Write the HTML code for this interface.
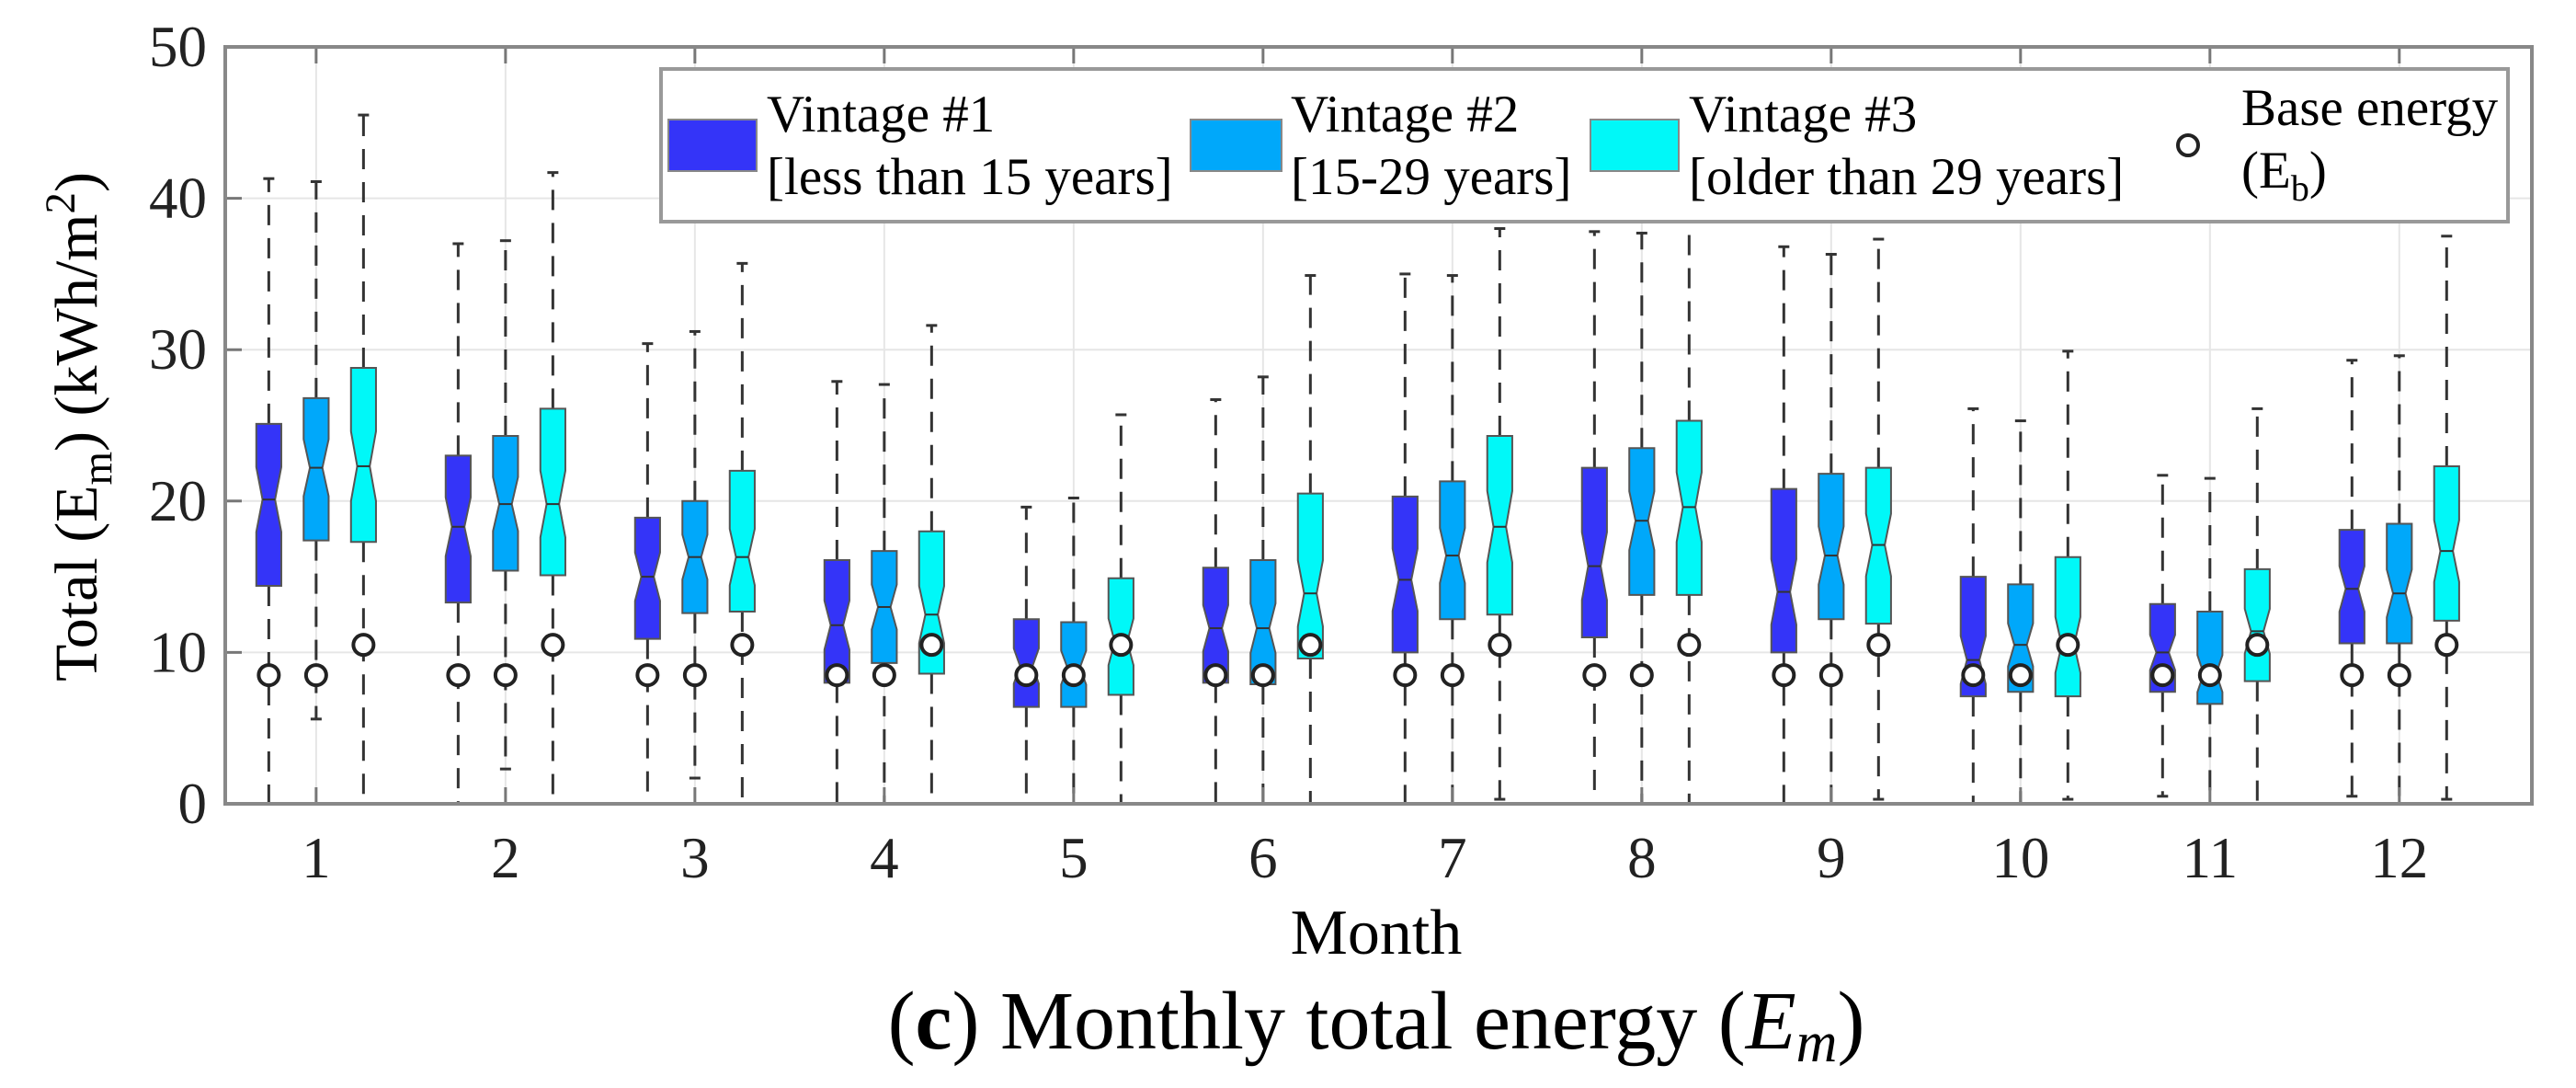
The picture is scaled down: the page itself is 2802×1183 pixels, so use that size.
<!DOCTYPE html>
<html><head><meta charset="utf-8"><style>
html,body{margin:0;padding:0;background:#fff;}
svg{display:block;font-family:"Liberation Serif",serif;}
</style></head><body>
<svg id="chart" width="2802" height="1183" viewBox="0 0 2802 1183" xmlns="http://www.w3.org/2000/svg">
<g id="grid"></g>
<g id="marks"></g>
<g id="axes"></g>
<g id="legend">
 <rect x="719" y="75" width="2009" height="166" fill="#fff" stroke="#999" stroke-width="4"/>
 <rect x="727" y="130" width="96" height="56" fill="#3434f8" stroke="#888" stroke-width="2"/>
 <text x="834" y="143" font-size="57">Vintage #1</text>
 <text x="834" y="211" font-size="57">[less than 15 years]</text>
 <rect x="1295" y="130" width="99" height="56" fill="#00a8fa" stroke="#888" stroke-width="2"/>
 <text x="1404" y="143" font-size="57">Vintage #2</text>
 <text x="1404" y="211" font-size="57">[15-29 years]</text>
 <rect x="1730" y="130" width="96" height="56" fill="#00f8f8" stroke="#888" stroke-width="2"/>
 <text x="1837" y="143" font-size="57">Vintage #3</text>
 <text x="1837" y="211" font-size="57">[older than 29 years]</text>
 <circle cx="2380" cy="158" r="11" fill="#fff" stroke="#222" stroke-width="4"/>
 <text x="2438" y="136" font-size="57">Base energy</text>
 <text x="2438" y="204" font-size="57">(E<tspan font-size="40" dy="14">b</tspan><tspan dy="-14">)</tspan></text>
</g>
<text transform="translate(105,464) rotate(-90)" text-anchor="middle" font-size="66">Total (E<tspan font-size="47" dy="16">m</tspan><tspan dy="-16">) (kWh/m</tspan><tspan font-size="47" dy="-24">2</tspan><tspan dy="24">)</tspan></text>
<text x="1497" y="1037" text-anchor="middle" font-size="70">Month</text>
<text x="1497" y="1140" text-anchor="middle" font-size="90">(<tspan font-weight="bold">c</tspan>) Monthly total energy (<tspan font-style="italic">E</tspan><tspan font-style="italic" font-size="62" dy="14">m</tspan><tspan dy="-14">)</tspan></text>
</svg>
<script>
const months = [1,2,3,4,5,6,7,8,9,10,11,12];
const yTicks = [0,10,20,30,40,50];
// Vintage #1
const v1Min = [0,0,0,0,0,0,0,0,0,0,0.5,0.5];
const v1Q1 = [14.4,13.3,10.9,8.0,6.4,8.0,10.0,11.0,10.0,7.1,7.4,10.6];
const v1Med = [20.1,18.3,15.0,11.8,9.1,11.6,14.8,15.7,14.0,9.5,10.0,14.2];
const v1Q3 = [25.1,23.0,18.9,16.1,12.2,15.6,20.3,22.2,20.8,15.0,13.2,18.1];
const v1Max = [41.3,37.0,30.4,27.9,19.6,26.7,35.0,37.8,36.8,26.1,21.7,29.3];
// Vintage #2
const v2Min = [5.6,2.3,1.7,0,0,0,0,0,0,0,0,0];
const v2Q1 = [17.4,15.4,12.6,9.3,6.4,7.9,12.2,13.8,12.2,7.4,6.6,10.6];
const v2Med = [22.2,19.8,16.3,13.0,9.0,11.6,16.4,18.7,16.4,10.5,8.6,13.9];
const v2Q3 = [26.8,24.3,20.0,16.7,12.0,16.1,21.3,23.5,21.8,14.5,12.7,18.5];
const v2Max = [41.1,37.2,31.2,27.7,20.2,28.2,34.9,37.7,36.3,25.3,21.5,29.6];
// Vintage #3
const v3Min = [0,0,0,0,0,0,0.3,0,0.3,0.3,0,0.3];
const v3Q1 = [17.3,15.1,12.7,8.6,7.2,9.6,12.5,13.8,11.9,7.1,8.1,12.1];
const v3Med = [22.3,19.8,16.3,12.5,10.7,13.9,18.3,19.6,17.1,10.5,11.4,16.7];
const v3Q3 = [28.8,26.1,22.0,18.0,14.9,20.5,24.3,25.3,22.2,16.3,15.5,22.3];
const v3Max = [45.5,41.7,35.7,31.6,25.7,34.9,38.0,40.5,37.3,29.9,26.1,37.5];
// Base energy
const baseV1 = [8.5,8.5,8.5,8.5,8.5,8.5,8.5,8.5,8.5,8.5,8.5,8.5];
const baseV2 = [8.5,8.5,8.5,8.5,8.5,8.5,8.5,8.5,8.5,8.5,8.5,8.5];
const baseV3 = [10.5,10.5,10.5,10.5,10.5,10.5,10.5,10.5,10.5,10.5,10.5,10.5];

const NS = "http://www.w3.org/2000/svg";
const L = 245, R = 2754, T = 51, B = 874;
const xMin = 0.52, xMax = 12.7, yMin = 0, yMax = 50;
function xs(v){ return L + (v - xMin) / (xMax - xMin) * (R - L); }
function ys(v){ return B - (v - yMin) / (yMax - yMin) * (B - T); }
function mk(tag, attrs, parent){
  const e = document.createElementNS(NS, tag);
  for (const k in attrs) e.setAttribute(k, attrs[k]);
  parent.appendChild(e); return e;
}
const grid = document.getElementById('grid');
const marks = document.getElementById('marks');
const axes = document.getElementById('axes');

yTicks.forEach(t => {
  const g = mk('line', {x1:L, x2:R, y1:ys(t), y2:ys(t), stroke:'#e6e6e6', 'stroke-width':2}, grid);
  
  
  const tk = mk('line', {x1:L, x2:L+18, y1:ys(t), y2:ys(t), stroke:'#777', 'stroke-width':3}, axes);
  
  
  const tx = mk('text', {x:L-20, y:ys(t)+21, 'text-anchor':'end', 'font-size':63, fill:'#222'}, axes);
  tx.textContent = t;
  
  
});
months.forEach(m => {
  const g = mk('line', {x1:xs(m), x2:xs(m), y1:T, y2:B, stroke:'#e6e6e6', 'stroke-width':2}, grid);
  
  
  const tk = mk('line', {x1:xs(m), x2:xs(m), y1:B, y2:B-18, stroke:'#777', 'stroke-width':3}, axes);
  
  
  const tk2 = mk('line', {x1:xs(m), x2:xs(m), y1:T, y2:T+18, stroke:'#777', 'stroke-width':3}, axes);
  
  
  const tx = mk('text', {x:xs(m), y:954, 'text-anchor':'middle', 'font-size':63, fill:'#222'}, axes);
  tx.textContent = m;
  
  
});
const frame = mk('rect', {x:L, y:T, width:R-L, height:B-T, fill:'none', stroke:'#888', 'stroke-width':4}, axes);



const series = [
  {name:'vintage-1', off:-0.25, fill:'#3434f8', mn:v1Min, q1:v1Q1, md:v1Med, q3:v1Q3, mx:v1Max, base:baseV1},
  {name:'vintage-2', off:0, fill:'#00a8fa', mn:v2Min, q1:v2Q1, md:v2Med, q3:v2Q3, mx:v2Max, base:baseV2},
  {name:'vintage-3', off:0.25, fill:'#00f8f8', mn:v3Min, q1:v3Q1, md:v3Med, q3:v3Q3, mx:v3Max, base:baseV3}
];
const halfW = 0.066;
series.forEach(s => {
  months.forEach((m, i) => {
    const cx = xs(m + s.off);
    const hw = xs(m + s.off + halfW) - cx;
    const nh = 0.2 * (s.q3[i] - s.q1[i]);
    const wu = mk('line', {x1:cx, x2:cx, y1:ys(s.q3[i]), y2:ys(s.mx[i]), stroke:'#333', 'stroke-width':3, 'stroke-dasharray':'22,14'}, marks);
    
    
    const wl = mk('line', {x1:cx, x2:cx, y1:ys(s.q1[i]), y2:ys(s.mn[i]), stroke:'#333', 'stroke-width':3, 'stroke-dasharray':'22,14'}, marks);
    
    
    const cu = mk('line', {x1:cx-6, x2:cx+6, y1:ys(s.mx[i]), y2:ys(s.mx[i]), stroke:'#333', 'stroke-width':3}, marks);
    
    
    const cl = mk('line', {x1:cx-6, x2:cx+6, y1:ys(s.mn[i]), y2:ys(s.mn[i]), stroke:'#333', 'stroke-width':3}, marks);
    
    
    const yq3 = ys(s.q3[i]), yq1 = ys(s.q1[i]), ym = ys(s.md[i]);
    const yn1 = ys(Math.min(s.md[i] + nh, s.q3[i])), yn2 = ys(Math.max(s.md[i] - nh, s.q1[i]));
    const pts = [[cx-hw,yq3],[cx+hw,yq3],[cx+hw,yn1],[cx+hw/2,ym],[cx+hw,yn2],[cx+hw,yq1],[cx-hw,yq1],[cx-hw,yn2],[cx-hw/2,ym],[cx-hw,yn1]];
    const box = mk('polygon', {points:pts.map(p=>p.join(',')).join(' '), fill:s.fill, stroke:'#555', 'stroke-width':2}, marks);
    
    
    const med = mk('line', {x1:cx-hw/2, x2:cx+hw/2, y1:ym, y2:ym, stroke:'#333', 'stroke-width':2}, marks);
    
    
  });
});
series.forEach(s => {
  months.forEach((m, i) => {
    const c = mk('circle', {cx:xs(m + s.off), cy:ys(s.base[i]), r:11, fill:'#fff', stroke:'#222', 'stroke-width':4}, marks);
    
    
  });
});
</script>
</body></html>
